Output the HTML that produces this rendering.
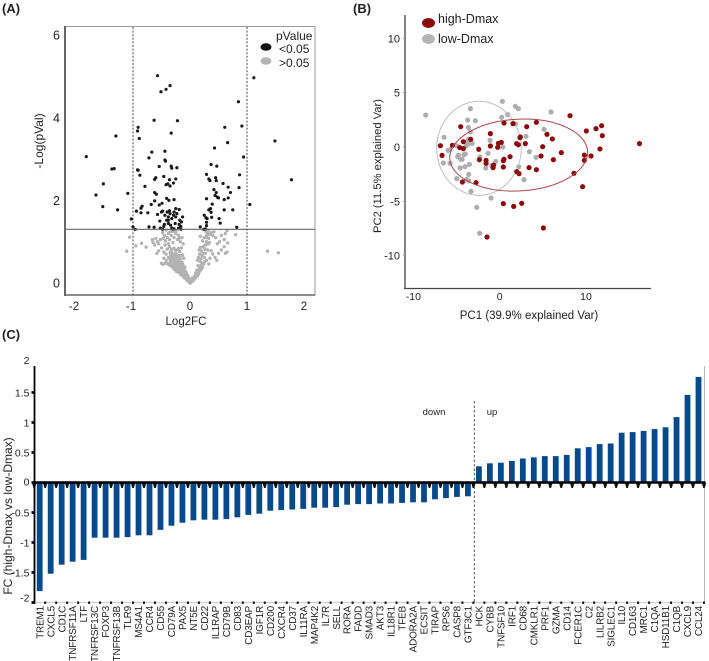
<!DOCTYPE html>
<html lang="en">
<head>
<meta charset="utf-8">
<title>Volcano, PCA and fold-change panels</title>
<style>
html,body{margin:0;padding:0;background:#fff;}
svg{display:block;font-family:"Liberation Sans",sans-serif;filter:blur(0.3px);}
text{fill:#222;}
</style>
</head>
<body>
<svg id="fig" width="709" height="661" viewBox="0 0 709 661" xmlns="http://www.w3.org/2000/svg">
  <rect x="0" y="0" width="709" height="661" fill="#fff"/>
  <text x="2" y="13" font-size="13" font-weight="bold">(A)</text>
  <text x="353" y="13" font-size="13" font-weight="bold">(B)</text>
  <text x="2" y="339" font-size="13" font-weight="bold">(C)</text>

  <g id="panelA">
    <rect x="65" y="26.5" width="250" height="268.5" fill="none" stroke="#999" stroke-width="1"/>
    <line x1="65" y1="26" x2="65" y2="296" stroke="#666" stroke-width="2"/>
    <line x1="64" y1="295" x2="315" y2="295" stroke="#666" stroke-width="1.6"/>
    <text transform="translate(43,141) rotate(-90)" text-anchor="middle" font-size="12">-Log(pVal)</text>
    <text x="186" y="325" text-anchor="middle" font-size="11.5">Log2FC</text>
    <text x="276" y="40" font-size="12">pValue</text>
    <ellipse cx="266" cy="47" rx="5.5" ry="3.8" fill="#111"/>
    <text x="279" y="53" font-size="12">&lt;0.05</text>
    <ellipse cx="266" cy="61" rx="5.5" ry="3.8" fill="#b5b5b5"/>
    <text x="279" y="67" font-size="12">&gt;0.05</text>
  </g>

  <g id="panelB">
    <line x1="405" y1="15" x2="405" y2="289" stroke="#444" stroke-width="1.3"/>
    <line x1="404" y1="288.5" x2="651" y2="288.5" stroke="#444" stroke-width="1.3"/>
    <text transform="translate(381,166) rotate(-90)" text-anchor="middle" font-size="11.2">PC2 (11.5% explained Var)</text>
    <text x="529" y="319" text-anchor="middle" font-size="11.5">PC1 (39.9% explained Var)</text>
    <ellipse cx="428.5" cy="23" rx="6.5" ry="5" fill="#8b0a0a"/>
    <text x="438" y="23" font-size="12.5">high-Dmax</text>
    <ellipse cx="428.5" cy="39" rx="6.5" ry="5" fill="#b5b5b5"/>
    <text x="438" y="43" font-size="12.5">low-Dmax</text>
  </g>

  <g id="panelC">
    <text transform="translate(12,516) rotate(-90)" text-anchor="middle" font-size="12">FC (high-Dmax vs low-Dmax)</text>
    <line x1="704.5" y1="366" x2="704.5" y2="603" stroke="#bbb" stroke-width="1"/>
    <line x1="34" y1="602.5" x2="705" y2="602.5" stroke="#ccc" stroke-width="1"/>
    <line x1="474.3" y1="401" x2="474.3" y2="602" stroke="#444" stroke-width="0.9" stroke-dasharray="2.5 2"/>
    <text x="434" y="415" text-anchor="middle" font-size="9.5">down</text>
    <text x="492" y="415" text-anchor="middle" font-size="9.5">up</text>
  </g>
</svg>
<script>
// ---------- Panel A data: [log2FC, -log(p)] ----------
const volcanoXTicks = [-2, -1, 0, 1, 2];
const volcanoYTicks = [0, 2, 4, 6];
const volcanoPThreshold = 1.3;
const volcanoFcThresholds = [-1, 1];
const volcanoSignificant = [
[-.57,5.02],[-.35,4.78],[-.42,4.69],[-.51,4.63],[1.12,4.97],[.85,4.39],[-.63,3.94],[-.22,3.93],[-.91,3.77],[-.92,3.68],
[.91,3.80],[.61,3.77],[-.33,3.63],[-1.30,3.56],[-.89,3.50],[1.49,3.44],[.66,3.40],[.43,3.27],[-.67,3.17],[-.44,3.19],
[-1.82,3.06],[-.72,3.03],[.94,3.05],[-.44,2.98],[-.43,2.95],[.37,2.87],[.47,2.83],[-.54,2.82],[-.33,2.83],[-.32,2.78],
[-.23,2.79],[-1.33,2.77],[-1.37,2.76],[-.92,2.74],[-.91,2.73],[-.88,2.61],[.29,2.63],[.87,2.62],[-.46,2.58],[-.60,2.55],
[-.62,2.51],[-.25,2.52],[-.36,2.50],[.33,2.52],[.35,2.48],[.45,2.55],[.46,2.48],[1.78,2.50],[-.29,2.42],[-.39,2.40],
[-.42,2.38],[-.35,2.35],[-1.52,2.40],[.58,2.41],[.67,2.32],[.86,2.31],[-.79,2.34],[.42,2.26],[-.62,2.19],[-.59,2.15],
[.46,2.19],[.71,2.19],[-1.09,2.17],[-1.65,2.13],[.44,2.12],[.48,2.08],[.50,2.06],[.67,2.06],[.60,2.02],[.29,2.04],
[-.41,2.05],[-.37,2.0],[-.62,1.99],[-.28,2.02],[-.49,1.93],[-.54,1.89],[-.68,1.9],[.39,1.91],[1.05,1.90],[-1.53,1.85],
[-.84,1.86],[-.86,1.81],[.36,1.80],[.33,1.77],[-1.27,1.77],[-.94,1.74],[-.86,1.70],[-.74,1.7],[.6,1.77],[.75,1.77],
[-.25,1.8],[-.19,1.78],[-.38,1.6],[-.35,1.68],[-.29,1.64],[-.25,1.6],[-.44,1.64],[-.38,1.52],[-.32,1.56],[-.23,1.68],
[-.38,1.44],[-.34,1.4],[-.26,1.44],[-.18,1.52],[-.15,1.48],[-.13,1.6],[-.19,1.42],[-.16,1.37],[-.32,1.33],[-.41,1.52],
[-.36,1.75],[-.4,1.72],[-.28,1.72],[-.5,1.72],[-.48,1.74],[-.57,1.66],[-.53,1.5],[-.45,1.42],[-.2,1.33],[-.28,1.31],
[-.31,1.31],[-.16,1.3],[-.46,1.37],[-.52,1.33],[-.48,1.3],[-1.0,1.36],[-.96,1.3],[-1.03,1.55],[-.72,1.36],[-.63,1.35],
[.18,1.36],[.24,1.3],[.27,1.31],[.82,1.35],[.25,1.64],[.28,1.58],[.3,1.56],[.29,1.47],[.29,1.39],[.37,1.71],
[.38,1.59],[.51,1.56],[.53,1.45]
];
const volcanoNotSignificant = [
[-1.11,.77],[-1.06,1.11],[-.95,.9],[-.85,.96],[-.77,.87],[1.36,.77],[1.55,.73],
[-.66,1.05],[-.65,.98],[-.62,.92],[-.6,1.08],[-.57,1.0],[-.55,.95],[-.52,1.05],[-.48,1.22],[-.45,1.15],[-.42,1.28],[-.4,1.1],
[-.38,1.2],[-.36,1.05],[-.33,1.15],[-.3,1.25],[-.28,1.1],[-.25,1.2],[-.22,1.05],[-.2,1.15],[-.17,1.0],[-.14,1.1],[-.12,.95],
[-.3,.98],[-.38,.95],[-.44,.92],[-.58,.72],[-.55,.78],[-.5,.85],[-.46,.75],[-.42,.7],[-.4,.82],[-.36,.88],[-.33,.76],[-.3,.68],
[-.28,.84],[-.25,.72],[-.22,.8],[-.2,.66],[-.18,.76],[-.15,.85],[-.13,.68],[-.11,.6],[-.38,.62],[-.35,.56],[-.32,.6],[-.27,.58],
[-.24,.62],[-.21,.55],[-.17,.58],[-.14,.5],[-.42,.55],[-.46,.6],[-.5,.48],[-.48,.45],[-.44,.47],[-.4,.48],[-.37,.44],
[-.34,.42],[-.31,.46],[-.3,.38],[-.28,.43],[-.26,.47],[-.25,.36],[-.23,.4],[-.22,.32],[-.2,.44],[-.19,.36],[-.18,.28],[-.17,.4],
[-.16,.33],[-.15,.25],[-.14,.37],[-.13,.3],[-.12,.22],[-.11,.27],[-.1,.34],[-.1,.18],[-.09,.23],[-.08,.28],[-.08,.14],[-.07,.18],
[-.06,.22],[-.06,.1],[-.05,.14],[-.04,.08],[-.04,.17],[-.03,.05],[-.03,.11],[-.02,.03],[-.02,.07],[-.01,.02],[0,0],[.01,.01],
[.02,.03],[.01,.05],[-.24,.5],[-.29,.52],[-.33,.5],[-.19,.5],[-.12,.42],[-.09,.38],[-.21,.26],[-.16,.2],[-.27,.33],[-.24,.28],
[.03,.07],[.04,.04],[.05,.1],[.06,.07],[.07,.13],[.08,.1],[.09,.17],[.1,.13],[.11,.2],[.12,.24],[.13,.17],[.14,.3],[.15,.22],
[.16,.27],[.17,.36],[.18,.3],[.19,.42],[.2,.34],[.21,.48],[.22,.38],[.14,.42],[.13,.55],[.15,.62],[.17,.7],[.16,.8],[.19,.58],
[.21,.66],[.23,.88],[.25,.62],[.27,.72],[.29,.55],[.31,.8],[.33,.46],[.35,.6],[.37,.78],[.4,.7],[.44,.62],[.47,.55],[.27,.92],
[.29,1.0],[.3,1.1],[.31,1.2],[.28,1.25],[.33,1.08],[.35,1.17],[.37,1.22],[.25,1.1],[.22,1.02],[.18,1.13],[.48,.95],[.52,1.0],
[.55,1.15],[.6,1.05],[.62,1.2],[.65,1.27],[.6,.88],[.62,.72],[.65,.75],[.66,.97],[.55,.8],[.5,.72],[.8,1.17],[.45,1.1],[.42,1.24],[.4,1.15],
[-.31,.72],[-.34,.66],[-.29,.62],[-.26,.66],[-.23,.68],[-.19,.62],[-.16,.66],[-.33,.82],[-.26,.8],[-.2,.84],[-.35,.74],[-.31,.54],
[-.28,.5],[-.25,.54],[-.22,.46],[-.18,.48],[-.15,.44],[-.13,.46],[-.12,.34],[-.14,.28],[-.17,.24],[-.19,.3],[-.21,.38],[-.24,.34],
[-.26,.4],[-.29,.36],[-.32,.4],[-.36,.48],[-.11,.14],[-.12,.17],[-.09,.12],[-.07,.1],[-.07,.26],[-.05,.06],[-.05,.19],[-.03,.15],
[-.01,.08],[.02,.06],[.03,.11],[.05,.05],[.06,.13],[.08,.16],[.1,.24],[.12,.31],[.18,.52],[.24,.46],[.26,.52],[.23,.72],[.2,.78],
[.26,.82],[.18,.86],[.32,.95],[.34,.98],[.29,1.15],[.32,1.28],[-.43,1.02],[-.47,1.08],[-.35,1.24],[-.27,1.27],[-.23,1.28],[-.19,1.08]
];

// ---------- Panel B data: [PC1, PC2] ----------
const pcaXTicks = [-10, 0, 10];
const pcaYTicks = [-10, -5, 0, 5, 10];
const pcaHighDmax = [
[8.15,2.88],[4.25,2.27],[.5,2.21],[1.54,2.15],[3.13,1.87],[-4.52,1.87],[-1.08,1.23],[5.48,1.17],[10.04,1.47],[11.16,1.69],
[11.81,1.96],[11.89,1.04],[6.1,.74],[2.39,.92],[2.35,.86],[-3.36,.71],[-4.21,.49],[.19,.43],[-.15,.34],[1.97,.31],
[2.97,.31],[2.16,.21],[16.2,.31],[-6.87,.12],[-5.48,.15],[-1.08,.09],[-.23,-.03],[4.98,.03],[-4.63,-.06],[-4.21,-.15],
[-2.43,-.21],[11.62,-.18],[-6.68,-.77],[7.14,-.52],[9.81,-.74],[10.58,-.83],[4.79,-.83],[1.2,-.89],[.5,-1.13],[.42,-1.26],
[-2.36,-1.17],[-1.58,-1.23],[6.22,-1.17],[9.81,-1.23],[-1.58,-1.5],[-.7,-1.66],[-.77,-1.9],[.42,-1.84],[3.4,-1.9],[4.25,-2.09],
[1.97,-2.27],[2.24,-2.45],[8.61,-2.42],[-4.32,-3.22],[-2.74,-3.28],[9.61,-3.65],[.42,-5.21],[2.55,-5.18],[1.62,-5.46],[5.06,-7.45],[-1.47,-8.28]
];
const pcaLowDmax = [
[-8.57,2.94],[.31,4.2],[1.81,3.74],[2.16,3.53],[-3.4,3.53],[5.95,3.22],[.93,2.98],[.23,2.73],[-3.71,2.48],[-2.82,2.42],
[1.85,2.12],[-3.63,1.81],[5.14,1.63],[-3.4,1.41],[3.05,.98],[-6.45,.89],[-3.63,.71],[-3.75,.52],[-1.12,.61],[-3.2,.34],
[-3.59,.31],[-3.86,.12],[-4.98,.12],[.35,0],[-5.98,-.31],[-5.75,-.25],[3.44,-.43],[-3.98,-.64],[-4.13,-.7],[-4.79,-.74],
[-4.86,-.89],[-1.35,-.58],[-2.28,-.92],[4.21,-.95],[-6.53,-1.47],[-5.75,-1.5],[-4.52,-1.13],[-4.36,-1.13],[-3.51,-1.6],[-4.02,-1.81],
[-4.59,-1.93],[-.46,-1.32],[-.93,-1.72],[-1.62,-1.93],[2.2,-1.84],[-3.59,-2.52],[-4.98,-2.91],[-3.82,-2.98],[-3.59,-3.1],[2.82,-3.0],
[-3.32,-4.08],[-1.0,-4.69],[-2.66,-5.55],[-2.32,-7.94]
];
const pcaLowCenter = [-2.4, -0.12];
const pcaLowRadii = [4.9, 4.33];
const pcaHighCenter = [2.2, -0.74];
const pcaHighRadii = [8.0, 3.3];

// ---------- Panel C data ----------
const geneNames = ["TREM1","CXCL5","CD1C","TNFRSF11A","LTF","TNFRSF13C","FOXP3","TNFRSF13B","TLR9","MS4A1","CCR4","CD55","CD79A","PAX5","NT5E","CD22","IL1RAP","CD79B","CD83","CD3EAP","IGF1R","CD200","CXCR4","CD37","IL11RA","MAP4K2","IL7R","SELL","RORA","FADD","SMAD3","AKT3","IL18R1","TFEB","ADORA2A","ECSIT","TIRAP","RPS6","CASP8","GTF3C1","HCK","CYBB","TNFSF10","IRF1","CD68","CMKLR1","PRF1","GZMA","CD14","FCER1C","C2","LILRB2","SIGLEC1","IL10","CD163","MRC1","C1QA","HSD11B1","C1QB","CXCL9","CCL24"];
const foldChanges = [-1.81,-1.52,-1.37,-1.32,-1.29,-.92,-.92,-.92,-.91,-.88,-.88,-.79,-.72,-.67,-.63,-.62,-.62,-.61,-.58,-.54,-.52,-.47,-.46,-.45,-.44,-.42,-.42,-.41,-.37,-.36,-.36,-.35,-.35,-.34,-.33,-.33,-.28,-.26,-.24,-.23,.27,.32,.33,.36,.40,.42,.44,.44,.46,.57,.59,.64,.65,.83,.84,.86,.89,.92,1.09,1.46,1.76];
const fcTicks = [-2,-1.5,-1,-0.5,0,0.5,1,1.5,2];

const NS = "http://www.w3.org/2000/svg";
function mk(parent, tag, attrs, txt) {
  const el = document.createElementNS(NS, tag);
  for (const k in attrs) el.setAttribute(k, attrs[k]);
  if (txt !== undefined) el.textContent = txt;
  parent.appendChild(el);
  return el;
}

// ---- Panel A axes
const ax = v => 190 + v * 57;
const ay = v => 283 - v * 41.3;
const gA = document.getElementById("panelA");
volcanoFcThresholds.forEach(t => {
  const el = mk(gA, "line", {x1: ax(t), x2: ax(t), y1: 27, y2: 295, stroke: "#444", "stroke-width": 1, "stroke-dasharray": "2 1.6"});
  
  
});
volcanoXTicks.forEach(t => {
  const el = mk(gA, "text", {x: ax(t) - (t < 0 ? 2 : 0), y: 310, "text-anchor": "middle", "font-size": 11.5}, String(t));
  
  
});
volcanoYTicks.forEach(t => {
  const el = mk(gA, "text", {x: 60, y: ay(t) + 4.5, "text-anchor": "end", "font-size": 12.5}, String(t));
  
  
});
volcanoNotSignificant.forEach(p => {
  const el = mk(gA, "circle", {cx: ax(p[0]), cy: ay(p[1]), r: 1.7, fill: "#b3b3b3"});
  
  
});
volcanoSignificant.forEach(p => {
  const el = mk(gA, "circle", {cx: ax(p[0]), cy: ay(p[1]), r: 1.6, fill: "#1a1a1a"});
  
  
});
const pLine = mk(gA, "line", {x1: 65, x2: 315, y1: ay(volcanoPThreshold), y2: ay(volcanoPThreshold), stroke: "#666", "stroke-width": 1.1});



// ---- Panel B axes
const bx = v => 499.7 + v * 8.63;
const by = v => 147 - v * 10.87;
const gB = document.getElementById("panelB");
pcaXTicks.forEach(t => {
  const el = mk(gB, "text", {x: bx(t), y: 300, "text-anchor": "middle", "font-size": 10.5}, String(t));
  
  
});
pcaYTicks.forEach(t => {
  const el = mk(gB, "text", {x: 400, y: by(t) + 4, "text-anchor": "end", "font-size": 11}, String(t));
  
  
  const tick = mk(gB, "line", {x1: 403, x2: 405, y1: by(t), y2: by(t), stroke: "#888", "stroke-width": 0.8});
  
  
});
pcaLowDmax.forEach(p => {
  const el = mk(gB, "circle", {cx: bx(p[0]), cy: by(p[1]), r: 2.6, fill: "#adadad"});
  
  
});
const lowEll = mk(gB, "ellipse", {cx: bx(pcaLowCenter[0]), cy: by(pcaLowCenter[1]), rx: pcaLowRadii[0] * 8.63, ry: pcaLowRadii[1] * 10.87, fill: "none", stroke: "#bdbdbd", "stroke-width": 1});


pcaHighDmax.forEach(p => {
  const el = mk(gB, "circle", {cx: bx(p[0]), cy: by(p[1]), r: 2.6, fill: "#8b0a0a"});
  
  
});
const hx = bx(pcaHighCenter[0]), hy = by(pcaHighCenter[1]);
const highEll = mk(gB, "ellipse", {cx: hx, cy: hy, rx: pcaHighRadii[0] * 8.63, ry: pcaHighRadii[1] * 10.87, fill: "none", stroke: "#a9474d", "stroke-width": 1, transform: "rotate(-3 " + hx + " " + hy + ")"});



// ---- Panel C axes
const cIndex = i => 39.7 + i * 10.98;
const cy = v => 482.5 - v * 60;
const gC = document.getElementById("panelC");
foldChanges.forEach((v, i) => {
  const y0 = cy(0), y1 = cy(v);
  const el = mk(gC, "rect", {x: cIndex(i) - 2.9, y: Math.min(y0, y1), width: 5.8, height: Math.abs(y1 - y0), fill: "#064a8c"});
  
  
});
geneNames.forEach((g, i) => {
  const px = cIndex(i);
  const el = mk(gC, "text", {transform: "translate(" + (px + 3.6) + ",606) rotate(-90)", "text-anchor": "end", "font-size": 10, "letter-spacing": "-0.2"}, g);
  
  
});
geneNames.concat([""]).forEach((g, i) => {
  const px = cIndex(i) - 5.49;
  const t = mk(gC, "path", {d: "M" + (px - 2.2) + " 483 H" + (px + 2.2) + " L" + (px + 0.8) + " 488 H" + (px - 0.8) + " Z", fill: "#111"});
  
  
  const b = mk(gC, "rect", {x: px - 1, y: 601.5, width: 2, height: 2.4, fill: "#111"});
  
  
});
const zero = mk(gC, "line", {x1: 33, x2: 705.5, y1: cy(0), y2: cy(0), stroke: "#000", "stroke-width": 2.6});


const yAxis = mk(gC, "line", {x1: 34.5, x2: 34.5, y1: 366, y2: cy(-2) + 1, stroke: "#000", "stroke-width": 1.8});


fcTicks.forEach(t => {
  const el = mk(gC, "text", {x: 29.5, y: cy(t) + (t === 2 ? 1.5 : t === -2 ? -1 : t === 0 ? 3 : 4), "text-anchor": "end", "font-size": 10.5}, String(t));
  
  
  if (t !== 2) {
    const tk = mk(gC, "rect", {x: 31.5, y: cy(t) - 1.3, width: 3, height: 2.6, fill: "#000"});
    
    
  }
});
</script>
</body>
</html>
